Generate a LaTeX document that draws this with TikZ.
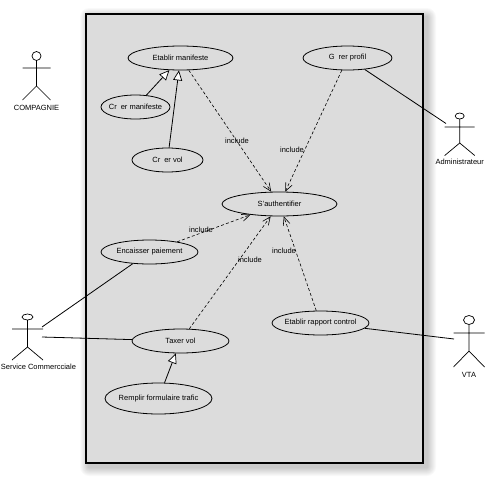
\documentclass[tikz,border=0pt]{standalone}
\usepackage{fontspec}
\setmainfont{Liberation Sans}
\usetikzlibrary{shapes.geometric,arrows.meta}
\definecolor{panel}{HTML}{DCDCDC}
\tikzset{
  usecase/.style={draw=black,fill=panel,ellipse,inner sep=0pt,line width=.8pt,label={[txt]center:#1}},
  txt/.style={inner sep=0pt,font=\fontsize{7.5}{9}\selectfont},
  assoc/.style={draw=black,line width=.8pt},
  incl/.style={draw=black,line width=.6pt,dash pattern=on 3pt off 2.2pt,-{Straight Barb[length=8pt,width=7pt,line width=.6pt]}},
  gener/.style={draw=black,line width=.8pt,-{Triangle[length=10pt,width=9pt,fill=white,line width=.7pt]}},
  stick/.style={draw=black,line width=.7pt}
}
% #1 x, #2 head y, #3 head rx, #4 head ry, #5 arm y, #6 half width, #7 hip y, #8 foot y
\newcommand{\stickman}[8]{%
  \draw[stick] (#1,#2) ellipse [x radius=#3,y radius=#4];
  \draw[stick] (#1,#2+#4) -- (#1,#7) (#1-#6,#5) -- (#1+#6,#5)
     (#1-#6,#8) -- (#1,#7) -- (#1+#6,#8);
}
\begin{document}
\begin{tikzpicture}[x=1pt,y=-1pt]
\useasboundingbox (0,0) rectangle (486,479);
\fill[white] (0,0) rectangle (486,479);
% soft shadow
\foreach \d in {9,8,...,1}{
  \fill[black,opacity=.022,rounded corners=\d pt] (86+3-\d,14+3-\d) rectangle (423+4+\d,463+4+\d);
}
% system frame
\draw[fill=panel,line width=1.6pt] (86,14) rectangle (423,463);

% use cases
\node[usecase={Etablir manifeste},minimum width=105pt,minimum height=24pt] (etab) at (180.5,58) {};
\node[usecase={Cr\hspace{4pt}er manifeste},minimum width=69pt,minimum height=24pt] (crman) at (135.5,107) {};
\node[usecase={Cr\hspace{4pt}er vol},minimum width=71pt,minimum height=24pt] (crvol) at (167.5,160) {};
\node[usecase={G\hspace{4pt}rer profil},minimum width=89pt,minimum height=24pt] (gerer) at (347.5,58) {};
\node[usecase={S'authentifier},minimum width=115pt,minimum height=24pt] (auth) at (279.5,204) {};
\node[usecase={Encaisser paiement},minimum width=97pt,minimum height=24pt] (enc) at (149.5,252) {};
\node[usecase={Taxer vol},minimum width=97pt,minimum height=24pt] (taxer) at (180.5,341) {};
\node[usecase={Remplir formulaire trafic},minimum width=107pt,minimum height=31pt] (rempl) at (158.5,398.5) {};
\node[usecase={Etablir rapport control},minimum width=97pt,minimum height=24pt] (rapp) at (320.5,323) {};

% actors
\stickman{36.5}{56}{4.5}{4.5}{68}{14}{86}{100}
\stickman{459.7}{116}{4.5}{3}{127}{15}{143}{155.5}
\stickman{27.5}{317}{5.5}{3}{329}{15.5}{347}{360}
\stickman{469}{320}{5.5}{4.5}{333}{15.5}{351}{367}
\node[txt] (compagnie) at (36.5,108) {COMPAGNIE};
\node[txt] (admin) at (459.7,162) {Administrateur};
\node[txt] (service) at (38.5,367) {Service Commercciale};
\node[txt] (vta) at (469,375) {VTA};
\coordinate (adminhand) at (446,123.5);
\coordinate (servicehandA) at (42,327);
\coordinate (servicehandB) at (42,337);
\coordinate (vtahand) at (454,339);

% associations
\draw[assoc] (gerer) -- (adminhand);
\draw[assoc] (enc) -- (servicehandA);
\draw[assoc] (taxer) -- (servicehandB);
\draw[assoc] (rapp) -- (vtahand);

% generalisations
\draw[gener] (crman) -- (etab);
\draw[gener] (crvol) -- (etab);
\draw[gener] (rempl) -- (taxer);

% includes
\draw[incl] (etab) -- (auth);
\draw[incl] (gerer) -- (auth);
\draw[incl] (enc) -- (auth);
\draw[incl] (taxer) -- (auth);
\draw[incl] (rapp) -- (auth);

% labels
\node[txt] (l1) at (237,140.5) {include};
\node[txt] (l2) at (292,150) {include};
\node[txt] (l3) at (201,230) {include};
\node[txt] (l4) at (250,260) {include};
\node[txt] (l5) at (284,251) {include};
\end{tikzpicture}
\end{document}
